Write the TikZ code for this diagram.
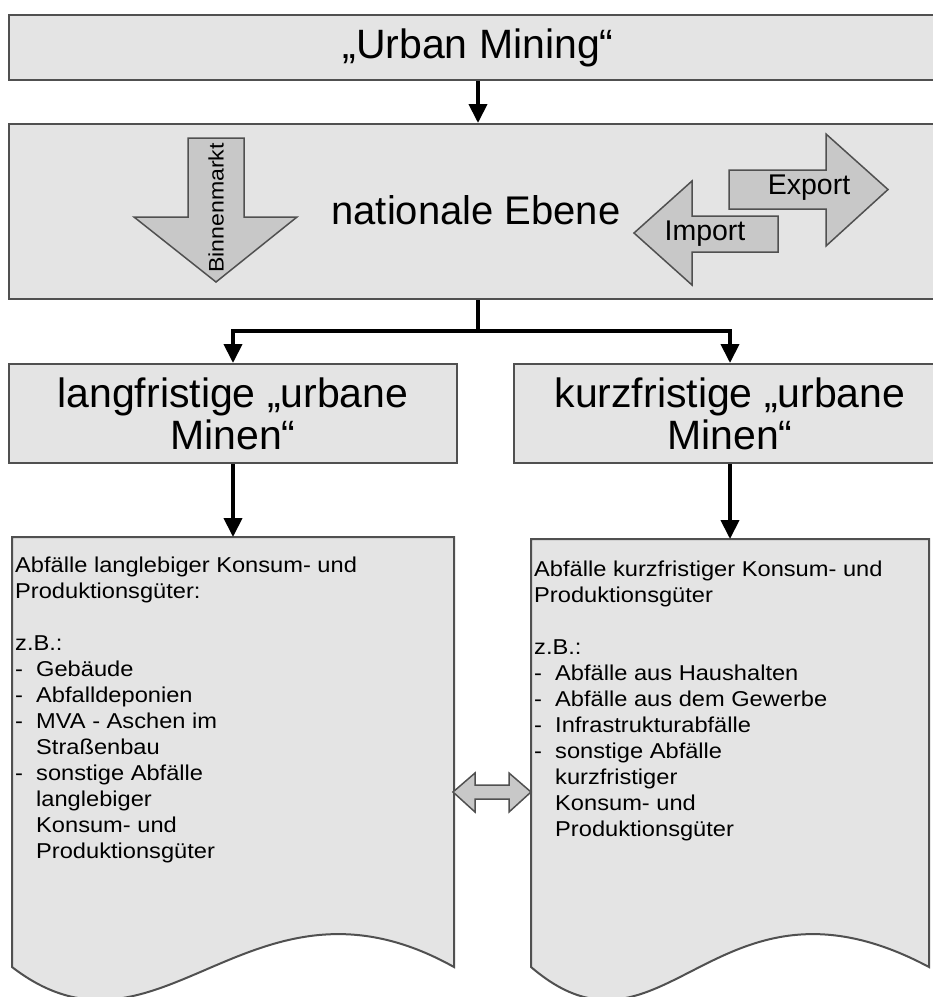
\documentclass[tikz,border=0pt]{standalone}
\usepackage{fontspec}
\setmainfont{Liberation Sans}
\newfontfamily\docfont{Liberation Sans}[FakeStretch=1.1]
\usetikzlibrary{arrows.meta}
\definecolor{boxfill}{HTML}{E4E4E4}
\definecolor{shapefill}{HTML}{C8C8C8}
\definecolor{edgegray}{HTML}{505050}
\begin{document}
\begin{tikzpicture}[x=1pt,y=-1pt,
  panel/.style={draw=edgegray, line width=2pt, fill=boxfill, inner sep=0pt, align=center},
  conn/.style={line width=4pt, -{Triangle[length=19pt,width=18pt]}},
  plainline/.style={line width=4pt},
  bigarrow/.style={draw=edgegray, line width=1.5pt, fill=shapefill, line join=miter},
  bigtext/.style={font=\fontsize{41}{41.7}\selectfont},
  doctext/.style={font=\docfont\fontsize{21.5}{26}\selectfont, align=left, inner sep=0pt, anchor=north west},
  lbl/.style={inner sep=0pt}
]
\useasboundingbox (0,0) rectangle (933,997);
\clip (0,0) rectangle (933,997);

% top box
\node[panel, bigtext, minimum width=938pt, minimum height=65pt] (top) at (478,47.5) {„Urban Mining“};
% national level box
\node[panel, minimum width=938pt, minimum height=175pt] (nat) at (478,211.5) {};
\node[lbl, font=\fontsize{40}{40}\selectfont] (natlbl) at (476,210) {nationale Ebene};

% Binnenmarkt arrow
\draw[bigarrow] (188,138) -- (244,138) -- (244,217) -- (297,217) -- (216,282) -- (134,217) -- (188,217) -- cycle;
\node[lbl, rotate=90, font=\docfont\fontsize{21}{21}\selectfont] (binnen) at (216,208) {Binnenmarkt};

% Export arrow
\draw[bigarrow] (729,170) -- (826,170) -- (826,134) -- (888,189.5) -- (826,246) -- (826,209) -- (729,209) -- cycle;
\node[lbl, font=\fontsize{28.5}{28.5}\selectfont] (export) at (809,188) {Export};
% Import arrow
\draw[bigarrow] (778,216) -- (692,216) -- (692,181) -- (634,233) -- (692,285) -- (692,252) -- (778,252) -- cycle;
\node[lbl, font=\fontsize{28.5}{28.5}\selectfont] (import) at (705,234) {Import};

% second level boxes
\node[panel, bigtext, minimum width=448pt, minimum height=99pt] (lbox) at (233,413.5) {langfristige „urbane\\Minen“};
\node[panel, bigtext, minimum width=432pt, minimum height=99pt] (rbox) at (730,413.5) {kurzfristige „urbane\\Minen“};

% document shapes
\node[minimum width=442pt, minimum height=430pt, inner sep=0pt, outer sep=0pt] (ldoc) at (233,752) {};
\node[minimum width=398pt, minimum height=428pt, inner sep=0pt, outer sep=0pt] (rdoc) at (730,753) {};
\draw[panel] (12,537) -- (454,537) -- (454,967) .. controls (250,853) and (160,1081) .. (12,967) -- cycle;
\draw[panel] (531,539) -- (929,539) -- (929,967) .. controls (715,853) and (664,1081) .. (531,967) -- cycle;

\node[doctext] (ltext) at (15,557) {Abfälle langlebiger Konsum- und\\
Produktionsgüter:\\[26pt]
z.B.:\\
\makebox[21pt][l]{-}Gebäude\\
\makebox[21pt][l]{-}Abfalldeponien\\
\makebox[21pt][l]{-}MVA - Aschen im\\
\hspace*{21pt}Straßenbau\\
\makebox[21pt][l]{-}sonstige Abfälle\\
\hspace*{21pt}langlebiger\\
\hspace*{21pt}Konsum- und\\
\hspace*{21pt}Produktionsgüter};

\node[doctext] (rtext) at (534,561) {Abfälle kurzfristiger Konsum- und\\
Produktionsgüter\\[26pt]
z.B.:\\
\makebox[21pt][l]{-}Abfälle aus Haushalten\\
\makebox[21pt][l]{-}Abfälle aus dem Gewerbe\\
\makebox[21pt][l]{-}Infrastrukturabfälle\\
\makebox[21pt][l]{-}sonstige Abfälle\\
\hspace*{21pt}kurzfristiger\\
\hspace*{21pt}Konsum- und\\
\hspace*{21pt}Produktionsgüter};

% double arrow between documents
\draw[bigarrow] (453,792) -- (475,773) -- (475,785) -- (509,785) -- (509,773) -- (531,792) -- (509,812) -- (509,799) -- (475,799) -- (475,812) -- cycle;

% connectors
\coordinate (br) at (478,331);
\draw[conn] (top.south) -- (nat.north);
\draw[plainline] (nat.south) -- (br);
\draw[conn] (br) -| (lbox.north);
\draw[conn] (br) -| (rbox.north);
\draw[conn] (lbox.south) -- (ldoc.north);
\draw[conn] (rbox.south) -- (rdoc.north);
\end{tikzpicture}
\end{document}
